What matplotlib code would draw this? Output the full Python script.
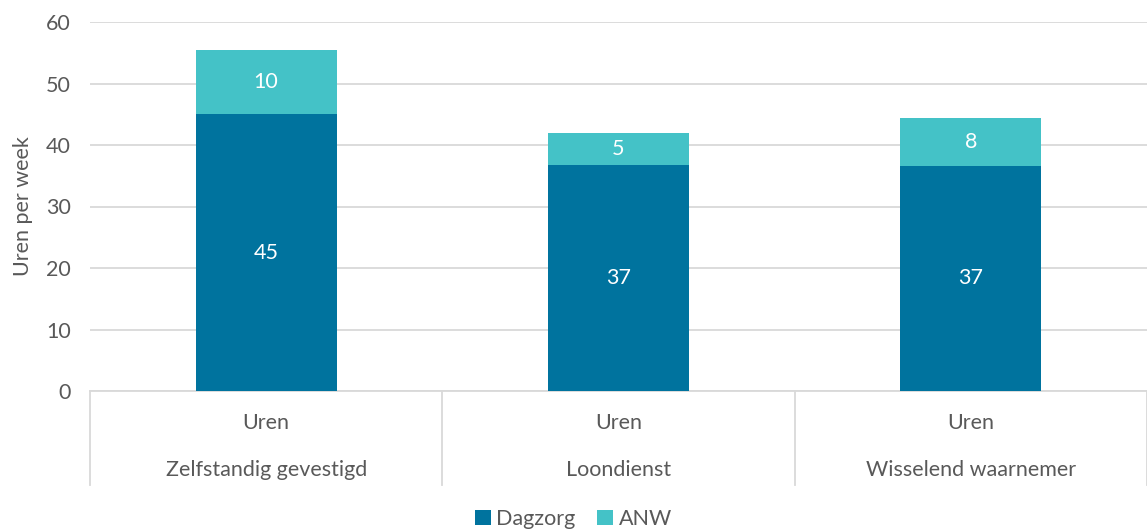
import matplotlib
matplotlib.use("Agg")
import matplotlib.pyplot as plt
import numpy as np

# hours per week, split by type of work
groups = ["Zelfstandig gevestigd", "Loondienst", "Wisselend waarnemer"]
sub_label = "Uren"
dagzorg = [45.0, 36.7, 36.6]
anw = [10.4, 5.2, 7.8]

c_dag = "#00739e"
c_anw = "#44c2c7"
c_text = "#595959"
c_grid = "#d9d9d9"
fs = 15.5

plt.rcParams["font.family"] = ["Lato", "DejaVu Sans"]

fig = plt.figure(figsize=(11.47, 5.29), dpi=100)
ax = fig.add_axes([90 / 1147, 1 - 391 / 529, 1 - 90 / 1147, (391 - 22) / 529])

x = np.arange(len(groups))
w = 0.4
b1 = ax.bar(x, dagzorg, w, color=c_dag, label="Dagzorg", zorder=3)
b2 = ax.bar(x, anw, w, bottom=dagzorg, color=c_anw, label="ANW", zorder=3)

for rect, v in zip(b1, dagzorg):
    ax.text(rect.get_x() + rect.get_width() / 2, rect.get_y() + v / 2, f"{v:.0f}",
            ha="center", va="center", color="white", fontsize=fs, zorder=4)
for rect, v, b in zip(b2, anw, dagzorg):
    ax.text(rect.get_x() + rect.get_width() / 2, b + v / 2, f"{v:.0f}",
            ha="center", va="center", color="white", fontsize=fs, zorder=4)

ax.set_xlim(-0.5, len(groups) - 0.5)
ax.set_ylim(0, 60)
ax.set_yticks(range(0, 61, 10))
ax.yaxis.grid(True, color=c_grid, linewidth=1.3, zorder=0)
ax.tick_params(axis="y", length=0, pad=14, labelsize=fs, labelcolor=c_text)
ax.set_xticks([])
for s in ["top", "right", "left"]:
    ax.spines[s].set_visible(False)
ax.spines["bottom"].set_color(c_grid)
ax.spines["bottom"].set_linewidth(1.3)

ax.set_ylabel("Uren per week", fontsize=fs, color=c_text, labelpad=9)

# two-level category axis
tr = ax.get_xaxis_transform()
for i, g in enumerate(groups):
    ax.text(i, -32 / 369, sub_label, transform=tr, ha="center", va="center",
            fontsize=fs, color=c_text)
    ax.text(i, -79 / 369, g, transform=tr, ha="center", va="center",
            fontsize=fs, color=c_text)
for xs in np.arange(-0.5, len(groups), 1.0):
    ax.plot([xs, xs], [0, -94 / 369], transform=tr, color=c_grid,
            linewidth=1.3, clip_on=False)

fig.legend(handles=[b1, b2], loc="center", bbox_to_anchor=(0.5, 1 - 519 / 529),
           ncol=2, frameon=False, fontsize=fs, labelcolor=c_text,
           handlelength=0.75, handleheight=0.75, handletextpad=0.25,
           columnspacing=1.0, borderaxespad=0)

fig.savefig("out.png", dpi=100)
